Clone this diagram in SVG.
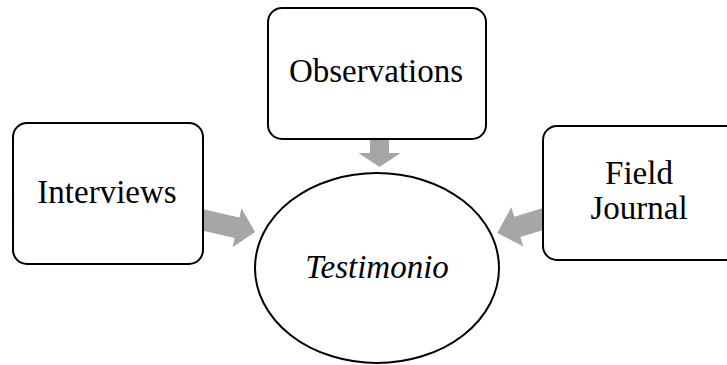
<svg xmlns="http://www.w3.org/2000/svg" width="727" height="365" viewBox="0 0 727 365">
<style>
.box{fill:#fff;stroke:#000;stroke-width:2}
.lbl{font-family:"Liberation Serif","Times New Roman",serif;font-size:33px;fill:#000;text-anchor:middle}
.arr{fill:#a6a6a6;stroke:none}
</style>
<rect width="727" height="365" fill="#fff"/>
<g id="connectors">
<polygon class="arr" transform="translate(200,219.3) rotate(13)" points="0,-10.5 38,-10.5 38,-20 56.5,0 38,20 38,10.5 0,10.5"/>
<polygon class="arr" transform="translate(379.5,137) rotate(90)" points="0,-9.5 16,-9.5 16,-21 30,0 16,21 16,9.5 0,9.5"/>
<polygon class="arr" transform="translate(546,218.1) rotate(163)" points="0,-10.5 30,-10.5 30,-20.5 51,0 30,20.5 30,10.5 0,10.5"/>
</g>
<g id="interviews">
<rect class="box" x="13" y="123" width="190" height="141" rx="14"/>
<text class="lbl" x="107" y="203">Interviews</text>
</g>
<g id="observations">
<rect class="box" x="268" y="8" width="218" height="131" rx="14"/>
<text class="lbl" x="376" y="82">Observations</text>
</g>
<g id="field-journal">
<rect class="box" x="543" y="126" width="220" height="134" rx="14"/>
<text class="lbl" x="639" y="184">Field</text>
<text class="lbl" x="639" y="219">Journal</text>
</g>
<g id="testimonio">
<ellipse class="box" cx="377" cy="268" rx="122" ry="95"/>
<text class="lbl" x="377" y="278" font-style="italic">Testimonio</text>
</g>
</svg>
